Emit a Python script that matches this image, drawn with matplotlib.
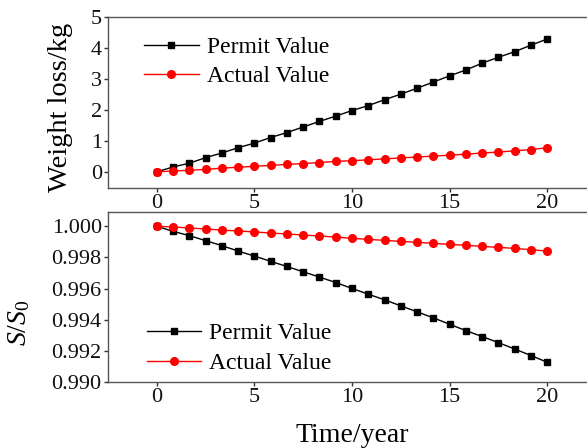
import matplotlib
matplotlib.use('Agg')
from matplotlib import pyplot as plt
import numpy as np

plt.rcParams['font.family'] = ['Liberation Serif', 'DejaVu Serif']
plt.rcParams['mathtext.fontset'] = 'custom'
plt.rcParams['mathtext.it'] = 'Liberation Serif:italic'
plt.rcParams['mathtext.rm'] = 'Liberation Serif'

time = [i * 20 / 24 for i in range(25)]

weight_permit = [0.00, 0.16, 0.28, 0.46, 0.61, 0.78, 0.93, 1.11, 1.27, 1.45,
                 1.63, 1.80, 1.98, 2.14, 2.33, 2.51, 2.70, 2.90, 3.10, 3.29,
                 3.51, 3.70, 3.88, 4.09, 4.29]
weight_actual = [0.00, 0.03, 0.05, 0.08, 0.12, 0.15, 0.18, 0.21, 0.24, 0.27,
                 0.30, 0.34, 0.36, 0.39, 0.42, 0.45, 0.48, 0.51, 0.54, 0.57,
                 0.61, 0.64, 0.68, 0.72, 0.78]

ratio_permit = [1.00000, 0.99968, 0.99940, 0.99908, 0.99876, 0.99841, 0.99809,
                0.99775, 0.99742, 0.99708, 0.99674, 0.99639, 0.99601, 0.99564,
                0.99528, 0.99489, 0.99451, 0.99412, 0.99371, 0.99330, 0.99292,
                0.99253, 0.99212, 0.99170, 0.99127]
ratio_actual = [1.00000, 0.99996, 0.99989, 0.99983, 0.99976, 0.99970, 0.99964,
                0.99957, 0.99951, 0.99944, 0.99938, 0.99931, 0.99923, 0.99916,
                0.99910, 0.99903, 0.99897, 0.99891, 0.99884, 0.99878, 0.99871,
                0.99865, 0.99858, 0.99850, 0.99841]

fig = plt.figure(figsize=(5.87, 4.48), dpi=100)
W, H = 587, 448
ax1 = fig.add_axes([108 / W, 1 - 188 / H, (596 - 108) / W, (188 - 17) / H])
ax2 = fig.add_axes([108 / W, 1 - 382 / H, (596 - 108) / W, (382 - 212) / H])

ax1.plot(time, weight_permit, color='black', marker='s', markersize=5,
         linewidth=1.0, label='Permit Value')
ax1.plot(time, weight_actual, color='red', marker='o', markersize=5.5,
         linewidth=1.0, label='Actual Value')
ax1.set_xlim(-2.5, 22.5)
ax1.set_ylim(-0.52, 5)
ax1.set_yticks([0, 1, 2, 3, 4, 5])
ax1.set_xticks([0, 5, 10, 15, 20])
ax1.set_ylabel('Weight loss/kg', fontsize=20.5)
ax1.yaxis.set_label_coords(-0.072, 0.47)
ax1.legend(loc='upper left', bbox_to_anchor=(0.055, 0.94), frameon=False,
           fontsize=17, handlelength=2.3, handletextpad=0.35, labelspacing=0.3,
           borderaxespad=0.0)

ax2.plot(time, ratio_permit, color='black', marker='s', markersize=5,
         linewidth=1.0, label='Permit Value')
ax2.plot(time, ratio_actual, color='red', marker='o', markersize=5.5,
         linewidth=1.0, label='Actual Value')
ax2.set_xlim(-2.5, 22.5)
ax2.set_ylim(0.990, 1.00092)
ax2.set_yticks([0.990, 0.992, 0.994, 0.996, 0.998, 1.000])
ax2.set_yticklabels(['0.990', '0.992', '0.994', '0.996', '0.998', '1.000'])
ax2.set_xticks([0, 5, 10, 15, 20])
ax2.set_xlabel('Time/year', fontsize=20, labelpad=11)
ax2.set_ylabel(r'$S/S_{\mathit{0}}$', fontsize=20)
ax2.yaxis.set_label_coords(-0.155, 0.347)
ax2.legend(loc='lower left', bbox_to_anchor=(0.06, -0.008), frameon=False,
           fontsize=17, handlelength=2.3, handletextpad=0.35, labelspacing=0.36,
           borderaxespad=0.0)

for ax in (ax1, ax2):
    ax.tick_params(direction='out', length=3, width=1, labelsize=16,
                   colors='#333333', labelcolor='#111111', pad=1.5)
    for s in ax.spines.values():
        s.set_color('#555555')
        s.set_linewidth(1.0)

plt.savefig('out.png', dpi=100)
